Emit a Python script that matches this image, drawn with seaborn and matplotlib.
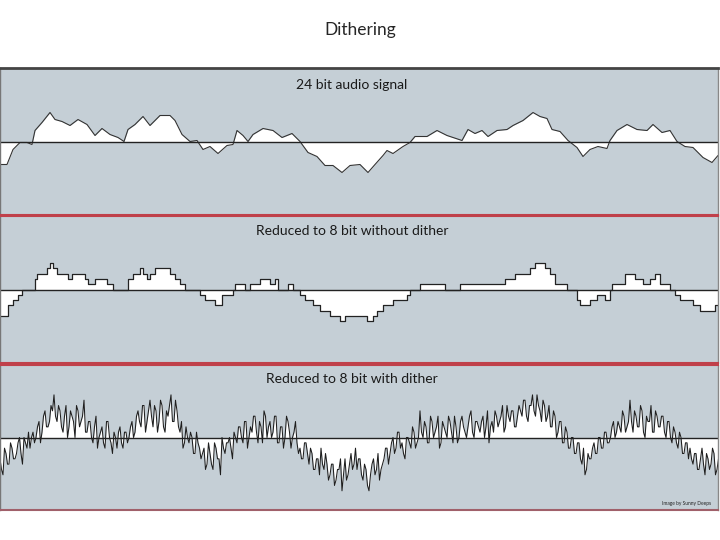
import numpy as np
import pandas as pd
import matplotlib
matplotlib.use("Agg")
import matplotlib.pyplot as plt
import seaborn as sns

# 24 bit signal: sample position (px) and amplitude (px above zero line)
sig_x = [0, 7, 13, 20, 27, 32, 35, 42, 50, 55, 62, 70, 78, 87, 95, 102, 110, 118, 124, 128,
         135, 143, 150, 160, 170, 175, 182, 190, 197, 203, 210, 218, 227, 233, 237, 243, 248, 253, 263, 273,
         282, 292, 300, 308, 317, 325, 333, 342, 350, 360, 368, 375, 383, 387, 393, 403, 410, 415, 427, 437,
         447, 462, 468, 475, 482, 488, 497, 507, 513, 523, 533, 540, 547, 552, 560, 568, 577, 583, 590, 598,
         607, 610, 617, 627, 637, 647, 653, 662, 670, 677, 685, 693, 703, 712, 718]
sig_y = [-23, -23, -8, -1, -1, -3, 11, 19, 29, 22, 20, 16, 22, 17, 6, 13, 7, 4, 0, 12,
         17, 25, 16, 26, 26, 21, 7, 0, 1, -8, -5, -12, -4, -3, 11, 6, 0, 7, 13, 11,
         4, 8, 0, -11, -15, -24, -24, -31, -24, -23, -31, -23, -14, -9, -12, -5, -1, 5, 5, 11,
         6, 1, 12, 8, 11, 5, 11, 12, 16, 21, 29, 25, 23, 12, 10, 1, -6, -15, -8, -5,
         -7, 1, 11, 17, 12, 11, 17, 9, 11, 0, -5, -6, -16, -21, -14]

# 8 bit without dither: step start positions (px) and quantisation levels
q_x = [0, 8, 13, 18, 22, 35, 37, 47, 50, 53, 57, 68, 72, 85, 88, 95, 107, 113, 128, 133,
       140, 143, 147, 150, 155, 170, 175, 180, 185, 200, 205, 215, 222, 233, 235, 245, 250, 260, 270, 275,
       278, 288, 293, 300, 305, 313, 320, 330, 340, 345, 360, 367, 373, 377, 383, 393, 407, 410, 420, 445,
       460, 505, 515, 530, 535, 545, 550, 555, 567, 577, 580, 590, 597, 605, 610, 612, 625, 635, 643, 650,
       655, 660, 670, 675, 680, 693, 700, 715, 718]
q_lvl = [-5, -3, -2, -1, 0, 2, 3, 4, 5, 4, 3, 2, 3, 2, 1, 2, 1, 0, 2, 3,
         4, 3, 2, 3, 4, 3, 2, 1, 0, -1, -2, -3, -1, 0, 1, 0, 1, 2, 1, 2,
         0, 1, 0, -1, -2, -3, -4, -5, -6, -5, -5, -6, -5, -4, -3, -2, -1, 0, 1, 0,
         1, 2, 3, 4, 5, 4, 3, 1, 0, -2, -3, -2, -1, -2, 0, 1, 3, 2, 1, 2,
         3, 1, 0, -1, -2, -3, -4, -3, -3]

# 8 bit with dither: levels read every 3 px (a) and in between (b)
d_lvl_a = [-4, -7, -3, -5, -2, -4, -1, -3, 0, -2,
           -2, 1, 0, 3, 1, 5, 2, 6, 8, 3,
           5, 1, 6, 2, 4, 0, 5, 3, 7, 1,
           3, -1, 4, 0, 2, -2, 3, -1, 1, -2,
           2, -2, 1, 0, 3, 1, 5, 2, 6, 3,
           7, 2, 5, 3, 6, 1, 4, 8, 3, 5,
           1, -2, 2, -1, 0, -3, -1, -4, -2, -5,
           -3, -6, -2, -4, 0, -3, -1, -2, 1, -1,
           2, -1, 3, 0, 1, 4, -1, 2, 5, 0,
           3, 1, 4, -1, 2, 0, 3, -2, 1, -1,
           -2, -4, -1, -5, -3, -6, -4, -2, -6, -5,
           -7, -5, -8, -6, -10, -4, -7, -3, -5, -6,
           -4, -8, -6, -10, -5, -7, -3, -6, -4, -2,
           -3, 0, -2, 1, -1, -4, 0, -2, 1, -1,
           5, 0, 2, -1, 3, 1, 4, -1, 2, 0,
           3, -1, 2, 0, 4, 1, 2, 5, 0, 3,
           1, 4, 2, -1, 3, 5, 2, 4, 1, 6,
           3, 5, 2, 6, 4, 7, 3, 6, 5, 8,
           5, 7, 3, 6, 2, 4, 1, 3, -1, 1,
           -2, 0, -3, -1, -5, -7, -3, -4, -1, -3,
           0, -2, 1, -1, 2, 0, 3, 1, 4, 2,
           7, 1, 4, 2, 5, 0, 3, 6, 1, 4,
           2, 4, 0, 3, -1, 1, -2, 0, -3, -1,
           -2, -5, -3, -6, -2, -7, -4, -5, -3, -6]
d_lvl_b = [-6, -2, -5, -1, -4, -3, 0, -5, -1, 1,
           0, -1, 2, -1, 4, 2, 3, 5, 4, 6,
           2, 4, 0, 5, 3, 6, 2, 4, 1, 3,
           0, 2, -2, 1, -1, 3, 0, -3, 0, 1,
           -1, 1, -1, 2, 0, 4, 3, 6, 1, 5,
           4, 6, 1, 7, 2, 5, 6, 3, 7, 2,
           3, -1, 0, 1, -3, 1, -2, -3, -6, -1,
           -5, -1, -4, -7, -2, -1, 0, -4, 0, 2,
           0, 3, -2, 2, 4, 1, 3, -1, 4, 2,
           0, 4, -1, 2, -2, 4, 1, 0, 3, -3,
           -4, -1, -3, -2, -6, -4, -7, -5, -3, -8,
           -5, -9, -6, -4, -7, -8, -5, -6, -2, -4,
           -7, -5, -9, -7, -4, -6, -8, -5, -2, -5,
           -1, -3, 1, -2, -3, 0, -1, 2, -2, 0,
           1, 3, -1, 4, 0, 2, -2, 3, 1, 4,
           1, 4, -1, 3, 2, 0, 4, 1, 3, 2,
           3, 0, 5, 2, 1, 4, 3, 6, 2, 4,
           5, 2, 4, 5, 7, 4, 6, 8, 4, 6,
           3, 6, 4, 2, 5, 0, 3, -1, 2, -2,
           0, -3, -1, -4, -2, -6, -4, -2, -3, 0,
           -2, 1, -1, 0, 3, 1, 2, 5, 1, 3,
           3, 5, 2, 6, 1, 4, 3, 1, 5, 2,
           4, 1, 3, 0, 2, -1, 1, -3, -1, -4,
           -4, -3, -6, -4, -5, -3, -6, -2, -7, -4]

titles = ["24 bit audio signal", "Reduced to 8 bit without dither", "Reduced to 8 bit with dither"]
STEP = 5.33  # px per quantisation level

df1 = pd.DataFrame({"x": sig_x, "y": sig_y})
df2 = pd.DataFrame({"x": q_x, "y": np.array(q_lvl) * STEP})
df3 = pd.concat([
    pd.DataFrame({"x": np.arange(len(d_lvl_a)) * 3.0, "y": np.array(d_lvl_a) * STEP}),
    pd.DataFrame({"x": np.arange(len(d_lvl_b)) * 3.0 + 1.5, "y": np.array(d_lvl_b) * STEP}),
]).sort_values("x").reset_index(drop=True)

sns.set_style("white")
plt.rcParams['font.family'] = ['Lato', 'DejaVu Sans']

fig = plt.figure(figsize=(7.2, 5.4), dpi=100)
fig.text(0.5, 1 - 30 / 540, "Dithering", ha="center", va="center", fontsize=12.5)

W = 718 / 720
# (top px, bottom px) of each panel
panels = [(68, 215), (216, 363), (365, 510)]
label_off = [17, 15, 14]
bg = "#c5cfd6"

for i, (top, bot) in enumerate(panels):
    ax = fig.add_axes([0.0, 1 - bot / 540, W, (bot - top) / 540])
    ax.set_facecolor(bg)
    half = (bot - top) / 2
    ax.set_ylim(-half, half)
    ax.set_xlim(0, 718)
    d = [df1, df2, df3][i]
    if i == 1:
        ax.fill_between(d["x"], d["y"], 0, step="post", color="white", lw=0)
        sns.lineplot(data=d, x="x", y="y", ax=ax, color="#222222", lw=0.9,
                     drawstyle="steps-post", estimator=None, sort=False)
    elif i == 2:
        ax.fill_between(d["x"], d["y"], 0, color="white", lw=0)
        sns.lineplot(data=d, x="x", y="y", ax=ax, color="#1e1e1e", lw=0.75,
                     estimator=None, sort=False)
    else:
        ax.fill_between(d["x"], d["y"], 0, color="white", lw=0)
        sns.lineplot(data=d, x="x", y="y", ax=ax, color="#333333", lw=0.8,
                     estimator=None, sort=False)
    ax.axhline(0, color="#222222", lw=1.0)
    ax.text(352 / 718, 1 - label_off[i] / (bot - top), titles[i], transform=ax.transAxes,
            ha="center", va="center", fontsize=10, color="#1a1a1a")
    ax.set_xticks([])
    ax.set_yticks([])
    ax.set_xlabel("")
    ax.set_ylabel("")
    for s in ax.spines.values():
        s.set_visible(True)
        s.set_color("#888888")
        s.set_linewidth(1.0)
    ax.spines["top"].set_color("#444444" if i == 0 else "#c0404a")
    ax.spines["top"].set_linewidth(2.0 if i == 0 else 1.5)
    ax.spines["bottom"].set_color("#c0404a" if i < 2 else "#a0606a")
    ax.spines["bottom"].set_linewidth(1.5)
    ax.spines["left"].set_color("#777777")
    if i == 2:
        ax.text(0.99, 0.03, "Image by Sunny Deeps", transform=ax.transAxes,
                ha="right", va="bottom", fontsize=3.5, color="#222222")

fig.savefig("out.png", dpi=100)
